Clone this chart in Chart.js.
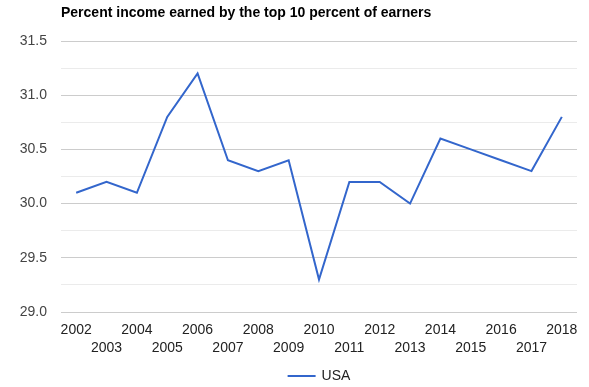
<!DOCTYPE html>
<html>
<head>
<meta charset="utf-8">
<script src="https://cdn.jsdelivr.net/npm/chart.js@4/dist/chart.umd.min.js"></script>
<style>
html,body{margin:0;padding:0;background:#fff;}
canvas{display:block;}
</style>
</head>
<body>
<canvas id="c" width="589" height="387"></canvas>
<script>
const chartTitle = 'Percent income earned by the top 10 percent of earners';
const years = ['2002','2003','2004','2005','2006','2007','2008','2009','2010','2011','2012','2013','2014','2015','2016','2017','2018'];
const usaValues = [30.1,30.2,30.1,30.8,31.2,30.4,30.3,30.4,29.3,30.2,30.2,30.0,30.6,30.5,30.4,30.3,30.8];
const seriesName = 'USA';
const yMin = 29.0, yMax = 31.5, yStep = 0.25;

const FONT = '"Liberation Sans", Arial, sans-serif';
const LINE_COLOR = '#3366cc';

const titleLegendPlugin = {
  id: 'titleLegend',
  afterDraw(chart) {
    const ctx = chart.ctx;
    const ca = chart.chartArea;
    ctx.save();
    ctx.font = 'bold 14px ' + FONT;
    ctx.fillStyle = '#000';
    ctx.textAlign = 'left';
    ctx.textBaseline = 'middle';
    ctx.fillText(chartTitle, ca.left, 13);
    ctx.font = '14px ' + FONT;
    const textW = ctx.measureText(seriesName).width;
    const lineW = 28, gap = 6;
    const total = lineW + gap + textW;
    const x0 = (ca.left + ca.right) / 2 - total / 2;
    const y = 376;
    ctx.strokeStyle = LINE_COLOR;
    ctx.lineWidth = 2;
    ctx.beginPath();
    ctx.moveTo(x0, y);
    ctx.lineTo(x0 + lineW, y);
    ctx.stroke();
    ctx.fillStyle = '#222';
    ctx.fillText(seriesName, x0 + lineW + gap, y);
    ctx.restore();
  }
};

new Chart(document.getElementById('c'), {
  type: 'line',
  data: {
    labels: years,
    datasets: [{
      label: seriesName,
      data: usaValues,
      borderColor: LINE_COLOR,
      backgroundColor: LINE_COLOR,
      borderWidth: 2,
      pointRadius: 0,
      pointHoverRadius: 0,
      tension: 0,
      fill: false
    }]
  },
  options: {
    responsive: false,
    animation: false,
    devicePixelRatio: 1,
    layout: { padding: { top: 41, right: 12, left: 0, bottom: 34 } },
    plugins: {
      title: { display: false },
      tooltip: { enabled: false },
      legend: { display: false }
    },
    scales: {
      x: {
        type: 'category',
        offset: true,
        grid: { display: false, drawTicks: false },
        border: { display: false },
        ticks: {
          autoSkip: false,
          maxRotation: 0,
          minRotation: 0,
          padding: 9,
          color: '#222',
          font: { family: FONT, size: 14, lineHeight: 18/14 },
          callback: function(v, i) {
            const lab = this.getLabelForValue(v);
            return i % 2 === 0 ? lab : ['', lab];
          }
        },
        afterFit(s) { s.height = 41; }
      },
      y: {
        min: yMin,
        max: yMax,
        grid: {
          drawTicks: false,
          color: (ctx) => {
            const v = ctx.tick ? ctx.tick.value : 0;
            return Math.abs(v * 2 - Math.round(v * 2)) < 1e-6 ? '#cccccc' : '#ebebeb';
          },
          lineWidth: 1
        },
        border: { display: false },
        ticks: {
          stepSize: yStep,
          autoSkip: false,
          padding: 14,
          color: '#444',
          font: { family: FONT, size: 14 },
          callback: (v) => Math.abs(v * 2 - Math.round(v * 2)) < 1e-6 ? Number(v).toFixed(1) : ''
        },
        afterFit(s) { s.width = 61; }
      }
    }
  },
  plugins: [titleLegendPlugin]
});
</script>
</body>
</html>
